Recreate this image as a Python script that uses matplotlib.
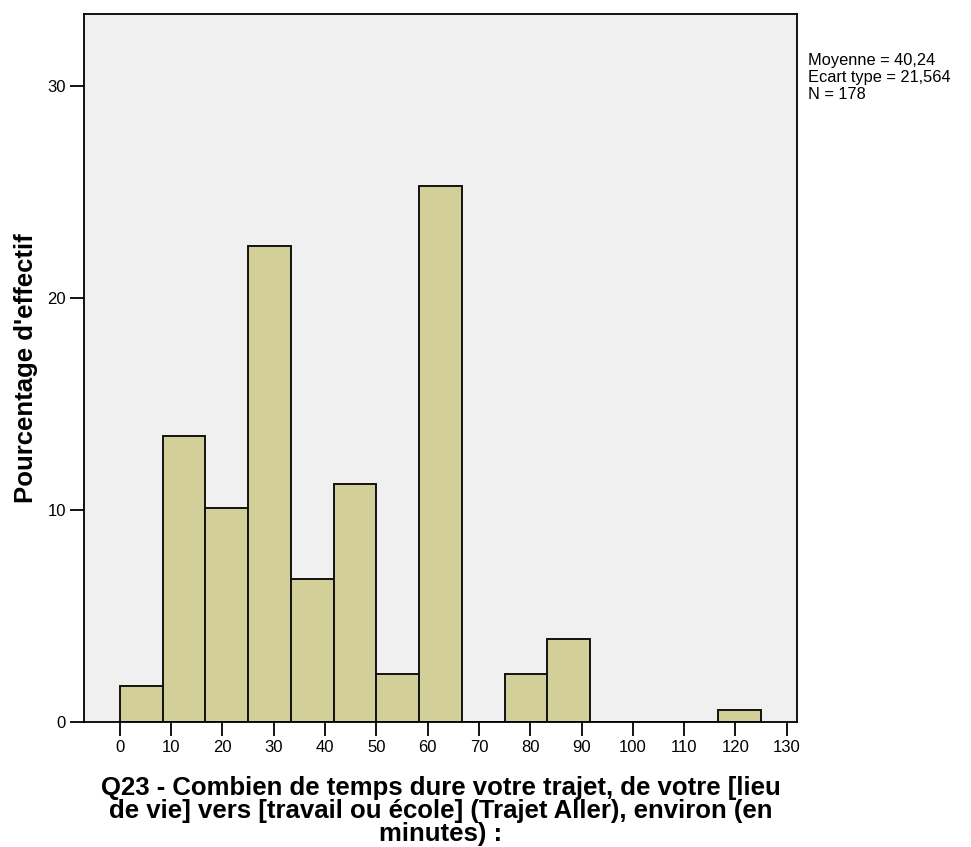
import matplotlib.pyplot as plt
import numpy as np

plt.rcParams['font.family'] = ['Liberation Sans', 'DejaVu Sans']

# histogram bins (minutes) and percentages
bin_edges = np.linspace(0, 125, 16)
pct = [1.69, 13.48, 10.11, 22.47, 6.74, 11.24, 2.25, 25.28, 0, 2.25, 3.93, 0, 0, 0, 0.56]
xticks = list(range(0, 131, 10))
yticks = [0, 10, 20, 30]
stats = "Moyenne = 40,24\nEcart type = 21,564\nN = 178"
xlabel = ("Q23 - Combien de temps dure votre trajet, de votre [lieu\n"
          "de vie] vers [travail ou école] (Trajet Aller), environ (en\n"
          "minutes) :")

fig = plt.figure(figsize=(9.71, 8.47), dpi=100)
ax = fig.add_axes([0.0865, 0.1476, 0.7343, 0.8359])
ax.set_facecolor('#F0F0F0')

widths = np.diff(bin_edges)
ax.bar(bin_edges[:-1], pct, width=widths, align='edge',
       color='#D3CF98', edgecolor='#111111', linewidth=1.4)

ax.set_xlim(-7, 132)
ax.set_ylim(0, 33.4)
ax.set_xticks(xticks)
ax.set_yticks(yticks)
ax.tick_params(direction='out', length=10, width=1.3, labelsize=12, pad=3, color='black')
for s in ax.spines.values():
    s.set_linewidth(1.3)

ax.set_ylabel("Pourcentage d'effectif", fontsize=18.5, fontweight='bold')
ax.yaxis.set_label_coords(-0.064, 0.5)
ax.set_xlabel(xlabel, fontsize=18.5, fontweight='bold', linespacing=0.96)
ax.xaxis.set_label_coords(0.5, -0.076)

fig.text(0.832, 0.938, stats, fontsize=11.8, va='top', ha='left', linespacing=1.2)

fig.savefig('out.png', dpi=100)
